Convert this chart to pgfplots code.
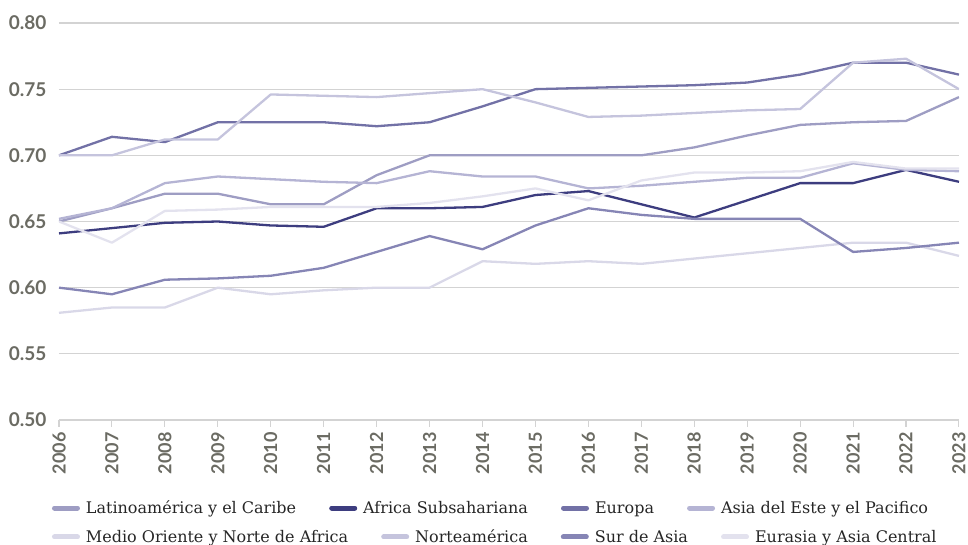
\documentclass[border=0pt]{standalone}
\usepackage{pgfplots}
\pgfplotsset{compat=1.18}
\usepackage{fontspec}
\setmainfont{DejaVu Serif}
\newfontfamily\latofont{Lato}

\definecolor{cLatam}{HTML}{9E9DC3}
\definecolor{cAfrica}{HTML}{3D3D7F}
\definecolor{cEuropa}{HTML}{7271A6}
\definecolor{cAsiaEste}{HTML}{B5B4D4}
\definecolor{cMedio}{HTML}{D9D8E8}
\definecolor{cNorte}{HTML}{C5C4DD}
\definecolor{cSur}{HTML}{8685B5}
\definecolor{cEurasia}{HTML}{E3E2EE}
\definecolor{gridgrey}{HTML}{D3D3D3}
\definecolor{ticktext}{HTML}{6B6B63}

\pgfplotsset{
  swatch/.style={
    legend image code/.code={\draw[##1, line width=5pt, line cap=round] (2.5pt,0pt) -- (25.5pt,0pt);}
  },
  flowlegend/.style={
    legend columns=-1,
    legend style={draw=none, fill=none, inner sep=0pt, outer sep=0pt,
      anchor=west, font=\fontsize{16}{18}\selectfont\color{black!85},
      nodes={inner sep=0pt},
      /tikz/every odd column/.append style={column sep=6pt},
      /tikz/every even column/.append style={column sep=33pt}},
  },
}

\begin{document}
\begin{tikzpicture}
\begin{axis}[
  at={(0pt,0pt)}, anchor=south west,
  scale only axis, width=900pt, height=397pt,
  xmin=2006, xmax=2023, ymin=0.5, ymax=0.8,
  xtick={2006,2007,...,2023},
  ytick={0.50,0.55,0.60,0.65,0.70,0.75,0.80},
  ymajorgrids, grid style={draw=gridgrey, line width=1.1pt},
  axis line style={draw=none},
  xtick pos=bottom, tick align=outside,
  major tick length=7pt,
  xtick style={draw=gridgrey, line width=1.1pt},
  ytick style={draw=none},
  /pgf/number format/assume math mode=true,
  xticklabel style={rotate=90, anchor=east, xshift=-2pt,
    font=\latofont\bfseries\fontsize{18}{20}\selectfont, color=ticktext,
    /pgf/number format/set thousands separator={}},
  yticklabel style={font=\latofont\bfseries\fontsize{19}{21}\selectfont, color=ticktext,
    /pgf/number format/fixed, /pgf/number format/fixed zerofill,
    /pgf/number format/precision=2, xshift=-2pt},
  every axis plot/.append style={line width=2.3pt, line join=round, mark=none},
  swatch, flowlegend,
  legend style={at={(axis description cs:-0.0078,-0.2217)}},
]
% Latinoamerica y el Caribe
\addplot[cLatam] coordinates {
 (2006,0.650) (2007,0.660) (2008,0.671) (2009,0.671) (2010,0.663) (2011,0.663)
 (2012,0.685) (2013,0.700) (2014,0.700) (2015,0.700) (2016,0.700) (2017,0.700)
 (2018,0.706) (2019,0.715) (2020,0.723) (2021,0.725) (2022,0.726) (2023,0.744)};
\addlegendentry{Latinoamérica y el Caribe}
% Africa Subsahariana
\addplot[cAfrica] coordinates {
 (2006,0.641) (2007,0.645) (2008,0.649) (2009,0.650) (2010,0.647) (2011,0.646)
 (2012,0.660) (2013,0.660) (2014,0.661) (2015,0.670) (2016,0.673) (2017,0.663)
 (2018,0.653) (2019,0.666) (2020,0.679) (2021,0.679) (2022,0.689) (2023,0.680)};
\addlegendentry{Africa Subsahariana}
% Europa
\addplot[cEuropa] coordinates {
 (2006,0.700) (2007,0.714) (2008,0.710) (2009,0.725) (2010,0.725) (2011,0.725)
 (2012,0.722) (2013,0.725) (2014,0.737) (2015,0.750) (2016,0.751) (2017,0.752)
 (2018,0.753) (2019,0.755) (2020,0.761) (2021,0.770) (2022,0.770) (2023,0.761)};
\addlegendentry{Europa}
% Asia del Este y el Pacifico
\addplot[cAsiaEste] coordinates {
 (2006,0.652) (2007,0.660) (2008,0.679) (2009,0.684) (2010,0.682) (2011,0.680)
 (2012,0.679) (2013,0.688) (2014,0.684) (2015,0.684) (2016,0.675) (2017,0.677)
 (2018,0.680) (2019,0.683) (2020,0.683) (2021,0.694) (2022,0.689) (2023,0.688)};
\addlegendentry{Asia del Este y el Pacifico}
% Medio Oriente y Norte de Africa
\addplot[cMedio, forget plot] coordinates {
 (2006,0.581) (2007,0.585) (2008,0.585) (2009,0.600) (2010,0.595) (2011,0.598)
 (2012,0.600) (2013,0.600) (2014,0.620) (2015,0.618) (2016,0.620) (2017,0.618)
 (2018,0.622) (2019,0.626) (2020,0.630) (2021,0.634) (2022,0.634) (2023,0.624)};
% Norteamerica
\addplot[cNorte, forget plot] coordinates {
 (2006,0.700) (2007,0.700) (2008,0.712) (2009,0.712) (2010,0.746) (2011,0.745)
 (2012,0.744) (2013,0.747) (2014,0.750) (2015,0.740) (2016,0.729) (2017,0.730)
 (2018,0.732) (2019,0.734) (2020,0.735) (2021,0.770) (2022,0.773) (2023,0.750)};
% Sur de Asia
\addplot[cSur, forget plot] coordinates {
 (2006,0.600) (2007,0.595) (2008,0.606) (2009,0.607) (2010,0.609) (2011,0.615)
 (2012,0.627) (2013,0.639) (2014,0.629) (2015,0.647) (2016,0.660) (2017,0.655)
 (2018,0.652) (2019,0.652) (2020,0.652) (2021,0.627) (2022,0.630) (2023,0.634)};
% Eurasia y Asia Central
\addplot[cEurasia, forget plot] coordinates {
 (2006,0.650) (2007,0.634) (2008,0.658) (2009,0.659) (2010,0.661) (2011,0.661)
 (2012,0.661) (2013,0.664) (2014,0.669) (2015,0.675) (2016,0.666) (2017,0.681)
 (2018,0.687) (2019,0.687) (2020,0.688) (2021,0.695) (2022,0.690) (2023,0.690)};
\end{axis}

% second legend row
\begin{axis}[
  at={(0pt,0pt)}, anchor=south west,
  scale only axis, width=900pt, height=397pt,
  xmin=0, xmax=1, ymin=0, ymax=1, hide axis,
  swatch, flowlegend,
  legend style={at={(axis description cs:-0.0078,-0.2947)}},
]
\addlegendimage{cMedio, line width=2.3pt}
\addlegendentry{Medio Oriente y Norte de Africa}
\addlegendimage{cNorte, line width=2.3pt}
\addlegendentry{Norteamérica}
\addlegendimage{cSur, line width=2.3pt}
\addlegendentry{Sur de Asia}
\addlegendimage{cEurasia, line width=2.3pt}
\addlegendentry{Eurasia y Asia Central}
\end{axis}

\pgfresetboundingbox
\path[use as bounding box] (-59pt,-125pt) rectangle (909pt,420pt);
\end{tikzpicture}
\end{document}
